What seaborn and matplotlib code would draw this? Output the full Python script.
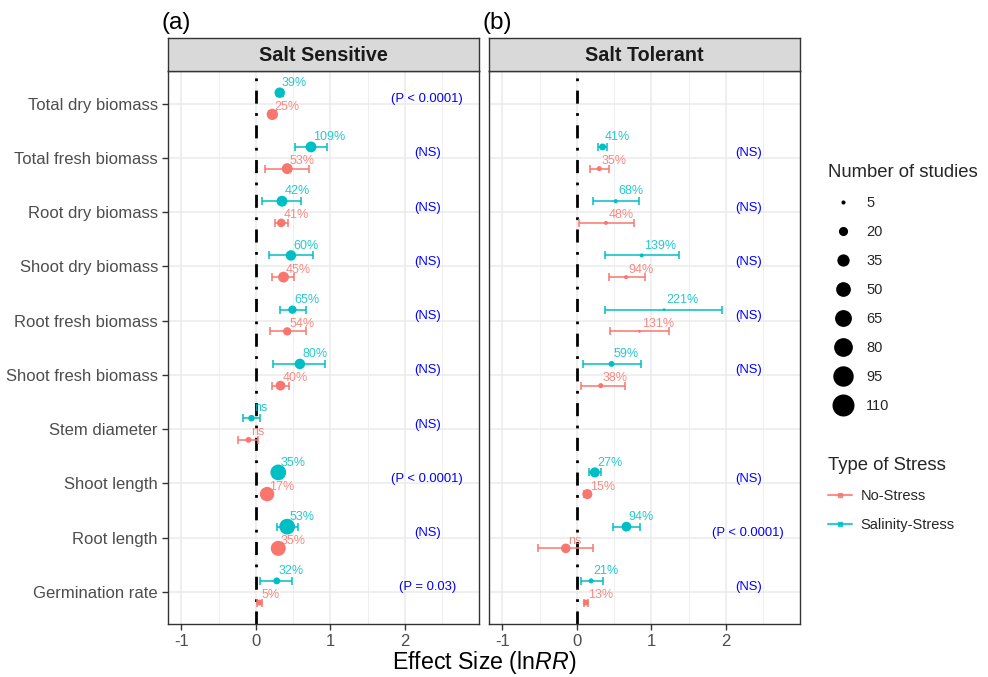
import numpy as np
import pandas as pd
import matplotlib
matplotlib.use("Agg")
import matplotlib.pyplot as plt
import seaborn as sns
from matplotlib.lines import Line2D

nan = np.nan

traits = ["Total dry biomass", "Total fresh biomass", "Root dry biomass",
          "Shoot dry biomass", "Root fresh biomass", "Shoot fresh biomass",
          "Stem diameter", "Shoot length", "Root length", "Germination rate"]

# ---- Salt Sensitive (a) ----
ss_nostress_mean = [0.22, 0.42, 0.34, 0.37, 0.42, 0.33, -0.10, 0.15, 0.30, 0.05]
ss_nostress_lo   = [0.17, 0.12, 0.25, 0.22, 0.19, 0.21, -0.24, 0.11, 0.25, 0.02]
ss_nostress_hi   = [0.27, 0.71, 0.43, 0.51, 0.67, 0.44, 0.03, 0.19, 0.35, 0.08]
ss_nostress_n    = [30, 28, 18, 28, 17, 23, 9, 48, 52, 9]
ss_nostress_lab  = ["25%", "53%", "41%", "45%", "54%", "40%", "ns", "17%", "35%", "5%"]

ss_salinity_mean = [0.32, 0.74, 0.35, 0.47, 0.49, 0.59, -0.06, 0.30, 0.42, 0.28]
ss_salinity_lo   = [0.28, 0.52, 0.085, 0.175, 0.32, 0.23, -0.18, 0.25, 0.28, 0.06]
ss_salinity_hi   = [0.37, 0.955, 0.61, 0.76, 0.67, 0.93, 0.06, 0.35, 0.56, 0.49]
ss_salinity_n    = [26, 28, 28, 26, 17, 26, 11, 57, 57, 12]
ss_salinity_lab  = ["39%", "109%", "42%", "60%", "65%", "80%", "ns", "35%", "53%", "32%"]

ss_sig = ["(P < 0.0001)", "(NS)", "(NS)", "(NS)", "(NS)", "(NS)", "(NS)",
          "(P < 0.0001)", "(NS)", "(P = 0.03)"]

# ---- Salt Tolerant (b) ----
st_nostress_mean = [nan, 0.30, 0.39, 0.66, 0.84, 0.32, nan, 0.14, -0.15, 0.12]
st_nostress_lo   = [nan, 0.17, 0.03, 0.425, 0.44, 0.05, nan, 0.10, -0.52, 0.09]
st_nostress_hi   = [nan, 0.43, 0.77, 0.91, 1.24, 0.645, nan, 0.18, 0.22, 0.15]
st_nostress_n    = [nan, 7, 5, 5, 3, 7, nan, 24, 22, 9]
st_nostress_lab  = ["", "35%", "48%", "94%", "131%", "38%", "", "15%", "ns", "13%"]

st_salinity_mean = [nan, 0.345, 0.52, 0.87, 1.17, 0.465, nan, 0.24, 0.665, 0.19]
st_salinity_lo   = [nan, 0.28, 0.22, 0.38, 0.38, 0.085, nan, 0.16, 0.49, 0.05]
st_salinity_hi   = [nan, 0.41, 0.83, 1.37, 1.955, 0.86, nan, 0.32, 0.85, 0.345]
st_salinity_n    = [nan, 12, 5, 5, 3, 9, nan, 24, 23, 7]
st_salinity_lab  = ["", "41%", "68%", "139%", "221%", "59%", "", "27%", "94%", "21%"]

st_sig = ["", "(NS)", "(NS)", "(NS)", "(NS)", "(NS)", "", "(NS)", "(P < 0.0001)", "(NS)"]

panel_titles = ["Salt Sensitive", "Salt Tolerant"]
panel_tags = ["(a)", "(b)"]
stress_types = ["No-Stress", "Salinity-Stress"]
size_breaks = [5, 20, 35, 50, 65, 80, 95, 110]

palette = {"No-Stress": "#F8766D", "Salinity-Stress": "#00BFC4"}
point_off = {"No-Stress": 0.2, "Salinity-Stress": -0.2}
text_off = {"No-Stress": 0.06, "Salinity-Stress": -0.38}


def build(panel, series):
    rows = []
    for stress, (m, lo, hi, n, lab) in series.items():
        for i, t in enumerate(traits):
            if np.isnan(m[i]):
                continue
            rows.append(dict(panel=panel, trait=t, idx=i, stress=stress, mean=m[i],
                             lo=lo[i], hi=hi[i], n=n[i], label=lab[i]))
    return pd.DataFrame(rows)


df_ss = build("Salt Sensitive", {
    "No-Stress": (ss_nostress_mean, ss_nostress_lo, ss_nostress_hi, ss_nostress_n, ss_nostress_lab),
    "Salinity-Stress": (ss_salinity_mean, ss_salinity_lo, ss_salinity_hi, ss_salinity_n, ss_salinity_lab)})
df_st = build("Salt Tolerant", {
    "No-Stress": (st_nostress_mean, st_nostress_lo, st_nostress_hi, st_nostress_n, st_nostress_lab),
    "Salinity-Stress": (st_salinity_mean, st_salinity_lo, st_salinity_hi, st_salinity_n, st_salinity_lab)})

sns.set_style("white")
plt.rcParams["font.family"] = ["Liberation Sans", "DejaVu Sans"]
plt.rcParams["mathtext.fontset"] = "custom"
plt.rcParams["mathtext.rm"] = "Liberation Sans"
plt.rcParams["mathtext.it"] = "Liberation Sans:italic"

W, H = 988, 677
fig = plt.figure(figsize=(W / 100, H / 100), dpi=100)

ax_x = [168.3 / W, 489.3 / W]
ax_w = 311 / W
ax_b = 1 - 624.3 / H
ax_h = (624.3 - 71) / H
strip_h = 32.7 / H

SIZES = (4, 251)
SNORM = (3, 110)

for k, (df, sig) in enumerate([(df_ss, ss_sig), (df_st, st_sig)]):
    ax = fig.add_axes([ax_x[k], ax_b, ax_w, ax_h])
    df = df.copy()
    df["y"] = df["idx"] + df["stress"].map(point_off)

    ax.set_xlim(-1.177, 3.0)
    ax.set_ylim(9.6, -0.6)
    ax.set_xticks([-1, 0, 1, 2])
    ax.set_xticklabels(["-1", "0", "1", "2"])
    ax.set_xticks([-0.5, 0.5, 1.5, 2.5], minor=True)
    ax.set_yticks(range(len(traits)))
    ax.grid(which="major", color="#EBEBEB", lw=1.1)
    ax.grid(which="minor", axis="x", color="#EBEBEB", lw=0.6)
    ax.set_axisbelow(True)

    ax.axvline(0, color="black", lw=2.0, ls=(0, (4.7, 3.4, 1.0, 3.4)), zorder=1.5)

    for st in stress_types:
        sub = df[df["stress"] == st]
        ax.errorbar(sub["mean"], sub["y"],
                    xerr=[sub["mean"] - sub["lo"], sub["hi"] - sub["mean"]],
                    fmt="none", ecolor=palette[st], elinewidth=1.1, capsize=2.6,
                    capthick=1.1, zorder=2)

    sns.scatterplot(data=df, x="mean", y="y", hue="stress", hue_order=stress_types,
                    palette=palette, size="n", sizes=SIZES, size_norm=SNORM,
                    legend=False, linewidth=0, ax=ax, zorder=3)

    for _, r in df.iterrows():
        ax.text(r["mean"] + 0.03, r["idx"] + text_off[r["stress"]], r["label"],
                color=palette[r["stress"]], alpha=0.85, fontsize=9.0,
                ha="left", va="center", zorder=4)

    for i, s in enumerate(sig):
        if s:
            ax.text(2.3, i - 0.08, s, color="blue", fontsize=9.4, ha="center",
                    va="center", zorder=4)

    ax.set_xlabel("")
    ax.set_ylabel("")
    if k == 0:
        ax.set_yticklabels(traits)
        ax.tick_params(axis="y", length=4.5, width=1.0, color="#333333",
                       labelsize=12, labelcolor="#4D4D4D", pad=3, left=True)
    else:
        ax.set_yticklabels([])
        ax.tick_params(axis="y", length=0, left=False)
    ax.tick_params(axis="x", which="major", length=4.5, width=1.0, color="#333333",
                   labelsize=12, labelcolor="#4D4D4D", pad=2.5, bottom=True)
    ax.tick_params(axis="x", which="minor", length=0)
    for sp in ax.spines.values():
        sp.set_color("#333333")
        sp.set_linewidth(1.0)

    sax = fig.add_axes([ax_x[k], ax_b + ax_h, ax_w, strip_h])
    sax.set_facecolor("#D9D9D9")
    sax.set_xticks([])
    sax.set_yticks([])
    for sp in sax.spines.values():
        sp.set_color("#333333")
        sp.set_linewidth(1.0)
    sax.text(0.5, 0.47, panel_titles[k], ha="center", va="center", fontsize=14.2,
             fontweight="bold", color="#1A1A1A", transform=sax.transAxes)

    fig.text([163 / W, 484.3 / W][k] - 0.002, 1 - 28.5 / H, panel_tags[k],
             fontsize=17.5, ha="left", va="baseline", color="black")

fig.text((168.3 + 800) / 2 / W, 1 - 663 / H, r"Effect Size (ln$\it{RR}$)",
         ha="center", va="center", fontsize=16.7, color="black")

# legends
def size_to_area(n):
    return SIZES[0] + (SIZES[1] - SIZES[0]) * (n - SNORM[0]) / (SNORM[1] - SNORM[0])

size_handles = [Line2D([], [], ls="", marker="o", color="black", markeredgewidth=0,
                       markersize=np.sqrt(size_to_area(b))) for b in size_breaks]
leg1 = fig.legend(size_handles, [str(b) for b in size_breaks], title="Number of studies",
                  loc="upper left", bbox_to_anchor=(821 / W, 1 - 157 / H), frameon=False,
                  fontsize=10.5, title_fontsize=13.3, labelspacing=1.03,
                  handletextpad=0.6, borderpad=0, alignment="left")

type_handles = [Line2D([], [], color=palette[s], lw=1.5, marker="s", markersize=3.5,
                       alpha=0.8) for s in stress_types]
leg2 = fig.legend(type_handles, stress_types, title="Type of Stress",
                  loc="upper left", bbox_to_anchor=(821 / W, 1 - 450 / H), frameon=False,
                  fontsize=10.5, title_fontsize=13.3, labelspacing=1.03,
                  handletextpad=0.6, borderpad=0, alignment="left", handlelength=1.6)

fig.savefig("out.png", dpi=100)
